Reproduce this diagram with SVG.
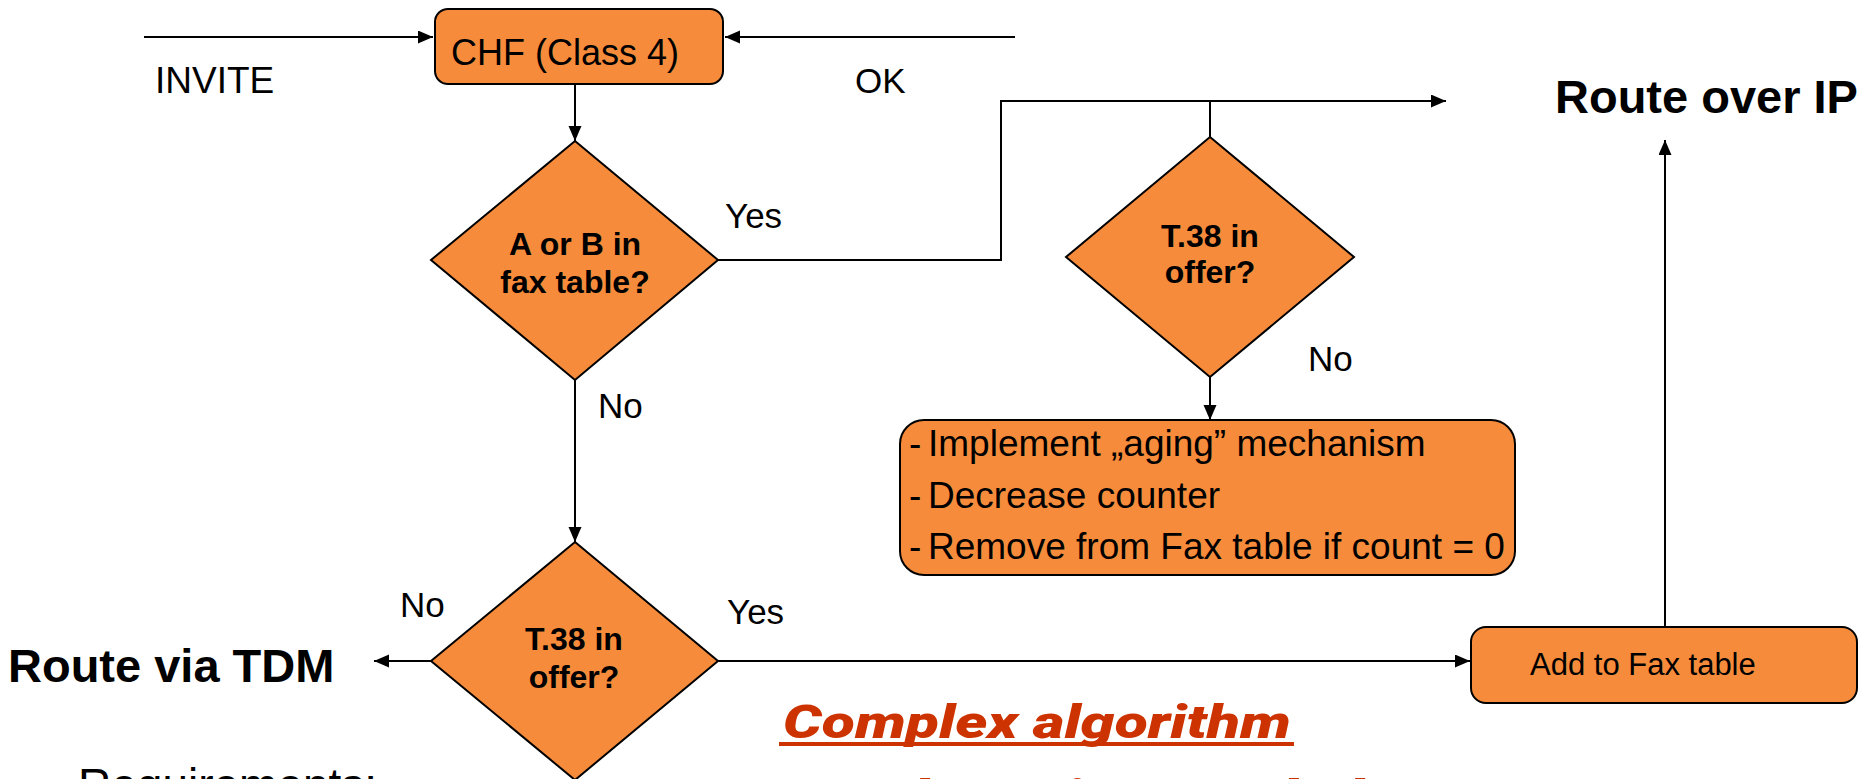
<svg xmlns="http://www.w3.org/2000/svg" width="1876" height="779" viewBox="0 0 1876 779">
  <defs>
    <marker id="arrow" markerUnits="userSpaceOnUse" markerWidth="16" markerHeight="14" refX="15" refY="6.5" orient="auto">
      <path d="M0,0 L15,6.5 L0,13 z" fill="#000"/>
    </marker>
    <style>
      .shape { fill: #F68C3B; stroke: #000; stroke-width: 2; }
      .wire { fill: none; stroke: #000; stroke-width: 2; }
      .arr { marker-end: url(#arrow); }
      .lbl { font-family: "Liberation Sans", Arial, sans-serif; font-size: 35px; fill: #000; }
      .q { font-family: "Liberation Sans", Arial, sans-serif; font-size: 32px; font-weight: bold; fill: #000; text-anchor: middle; }
      .big { font-family: "Liberation Sans", Arial, sans-serif; font-size: 47px; font-weight: bold; fill: #000; }
      .note { font-family: Roboto, Lato, "Liberation Sans", sans-serif; font-size: 46px; font-weight: 900; font-style: italic; fill: #CC3300; }
    </style>
  </defs>

  <rect width="1876" height="779" fill="#fff"/>

  <!-- connectors -->
  <g id="connectors">
    <path class="wire arr" d="M144,37 H433"/>
    <path class="wire arr" d="M1015,37 H725"/>
    <path class="wire arr" d="M575,84 V141"/>
    <path class="wire arr" d="M718,260 H1001 V101 H1446"/>
    <path class="wire" d="M1210,101 V137"/>
    <path class="wire arr" d="M1210,377 V420"/>
    <path class="wire arr" d="M575,380 V542"/>
    <path class="wire arr" d="M431,661 H374"/>
    <path class="wire arr" d="M718,661 H1470"/>
    <path class="wire arr" d="M1665,627 V140"/>
  </g>

  <!-- edge labels -->
  <g id="labels">
    <text class="lbl" x="155" y="93" style="font-size:37px">INVITE</text>
    <text class="lbl" x="855" y="93">OK</text>
    <text class="lbl" x="725" y="228">Yes</text>
    <text class="lbl" x="598" y="418">No</text>
    <text class="lbl" x="1308" y="371">No</text>
    <text class="lbl" x="400" y="617">No</text>
    <text class="lbl" x="727" y="624">Yes</text>
  </g>

  <g id="chf">
    <rect class="shape" x="435" y="9" width="288" height="75" rx="13"/>
    <text class="lbl" x="451" y="65" style="font-size:36px">CHF (Class 4)</text>
  </g>

  <g id="check-fax-table">
    <polygon class="shape" points="575,141 718,260 575,380 431,260"/>
    <text class="q" x="575" y="255">A or B in</text>
    <text class="q" x="575" y="293">fax table?</text>
  </g>

  <g id="check-t38-known">
    <polygon class="shape" points="1210,137 1354,257 1210,377 1066,257"/>
    <text class="q" x="1210" y="247">T.38 in</text>
    <text class="q" x="1210" y="283">offer?</text>
  </g>

  <g id="aging">
    <rect class="shape" x="900" y="420" width="615" height="155" rx="24"/>
    <g class="lbl" style="font-size:37px">
      <text x="909" y="456">-</text>
      <text x="928" y="456">Implement „aging” mechanism</text>
      <text x="909" y="508">-</text>
      <text x="928" y="508">Decrease counter</text>
      <text x="909" y="559">-</text>
      <text x="928" y="559">Remove from Fax table if count = 0</text>
    </g>
  </g>

  <g id="check-t38-new">
    <polygon class="shape" points="575,542 718,661 575,780 431,661"/>
    <text class="q" x="574" y="650">T.38 in</text>
    <text class="q" x="574" y="688">offer?</text>
  </g>

  <g id="add-to-table">
    <rect class="shape" x="1471" y="627" width="386" height="76" rx="15"/>
    <text class="lbl" x="1530" y="675" style="font-size:31px">Add to Fax table</text>
  </g>

  <g id="route-ip">
    <text class="big" x="1555" y="113">Route over IP</text>
  </g>

  <g id="route-tdm">
    <text class="big" x="8" y="682">Route via TDM</text>
  </g>

  <g id="remarks">
    <text class="note" x="783" y="738" textLength="508" lengthAdjust="spacingAndGlyphs">Complex algorithm</text>
    <rect x="779" y="742" width="515" height="4" fill="#CC3300"/>
    <text class="note" x="785" y="813" textLength="578" lengthAdjust="spacingAndGlyphs">Fax detection needed</text>
    <text class="lbl" x="78" y="801" style="font-size:46px">Requirements:</text>
  </g>
</svg>
